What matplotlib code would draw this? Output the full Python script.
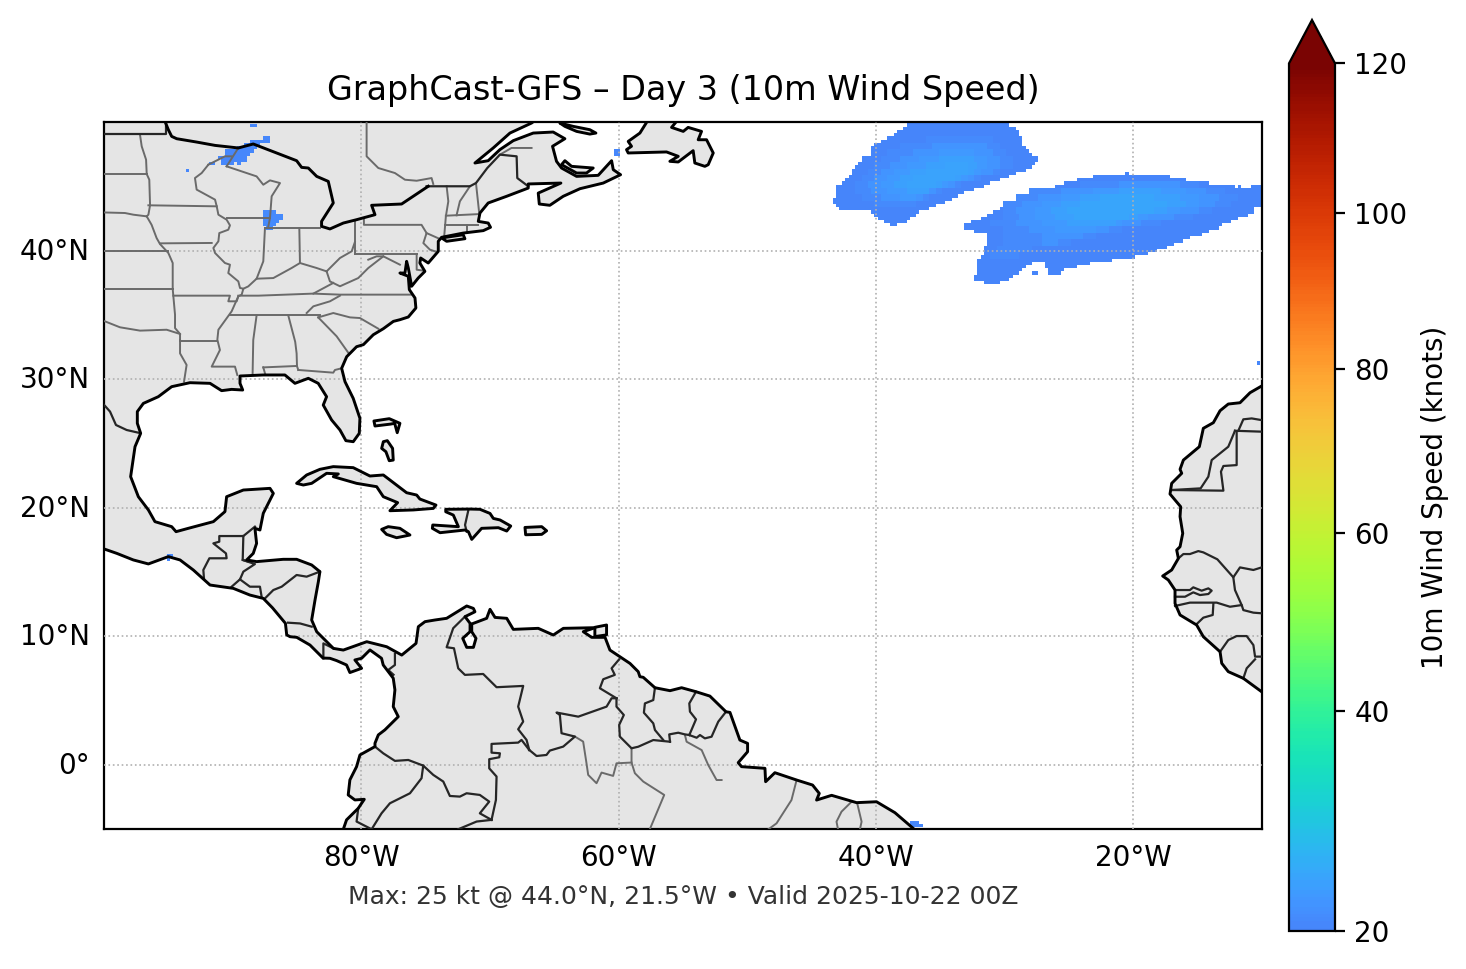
import numpy as np
import matplotlib
matplotlib.use("Agg")
import matplotlib.pyplot as plt
from matplotlib.colors import FuncNorm, LinearSegmentedColormap
from matplotlib.patches import Polygon
from matplotlib.transforms import ScaledTranslation

# ---- land outlines, (lon, lat)
main_land = [(-101,50.5),(-66.4,50.5),(-66.4,50.2),(-66.77,49.92),(-68.45,49.14),(-69.75,47.98),(-71.17,46.81),
 (-70.14,46.99),(-69.23,47.85),(-68.19,48.55),(-66.64,49.14),(-65.09,49.22),(-64.18,48.70),(-65.14,48.11),
 (-64.83,46.94),(-64.44,46.42),(-63.27,45.77),(-61.59,45.85),(-60.55,46.99),(-60.42,46.29),(-59.85,45.90),
 (-61.20,45.25),(-63.01,44.81),(-64.31,44.22),(-65.35,43.52),(-66.17,43.62),(-66.25,44.47),(-64.49,45.25),
 (-67.03,45.18),(-67.03,44.86),(-68.71,44.22),(-70.14,43.70),(-70.78,42.92),(-70.91,42.27),(-70.14,42.14),
 (-69.96,41.81),(-70.52,41.55),(-72.08,41.36),(-73.76,41.03),(-74.02,40.72),(-74.02,39.94),(-74.80,39.03),
 (-75.39,39.42),(-75.45,39.03),(-75.06,38.38),(-75.58,37.86),(-76.09,37.22),(-76.35,38.64),(-76.48,39.16),
 (-76.61,38.25),(-77.0,38.25),(-76.35,38.0),(-76.27,36.96),(-75.83,36.31),(-75.76,35.53),(-76.35,34.83),
 (-77.0,34.62),(-77.51,34.49),(-78.29,33.92),(-79.07,33.45),(-79.84,32.68),(-80.37,32.52),(-81.14,31.74),
 (-81.53,30.84),(-81.27,29.80),(-80.63,28.50),(-80.11,26.95),(-80.16,25.78),(-80.63,25.13),(-81.20,25.21),
 (-81.66,26.04),(-82.31,26.82),(-82.96,27.98),(-82.70,28.63),(-83.35,29.67),(-84.12,30.06),(-85.16,29.67),
 (-85.94,30.32),(-87.62,30.32),(-89.43,30.24),(-89.43,29.67),(-89.22,29.15),(-90.08,29.20),(-90.86,29.10),
 (-91.76,29.67),(-93.32,29.72),(-94.74,29.41),(-95.78,28.63),(-96.94,28.11),(-97.41,27.47),(-97.41,26.56),
 (-97.15,25.78),(-97.59,24.74),(-97.93,22.41),(-97.33,20.85),(-96.55,19.82),(-96.04,18.91),(-94.74,18.52),
 (-94.40,18.13),(-93.45,18.39),(-91.50,18.91),(-90.60,19.69),(-90.47,20.85),(-89.17,21.37),(-87.10,21.50),
 (-86.84,21.11),(-87.62,19.56),(-87.88,18.26),(-88.27,18.39),(-88.14,17.22),(-88.40,16.44),(-88.91,15.93),
 (-88.14,15.80),(-86.07,15.98),(-85.03,15.98),(-83.86,15.54),(-83.22,15.02),(-83.34,14.24),(-83.60,12.81),
 (-83.86,11.26),(-83.47,10.35),(-82.17,9.05),(-81.40,8.92),(-79.58,9.57),(-78.03,9.18),(-76.86,8.53),
 (-75.75,9.44),(-75.57,10.74),(-75.05,11.13),(-74.27,11.26),(-73.37,11.39),(-71.81,12.35),(-71.29,12.16),
 (-71.17,11.90),(-71.94,11.52),(-71.55,11.00),(-71.55,10.35),(-72.12,9.83),(-71.81,9.13),(-71.29,9.13),
 (-71.09,9.83),(-71.42,10.35),(-71.42,10.95),(-70.26,11.39),(-70.0,12.09),(-69.61,11.46),(-68.70,11.39),
 (-68.19,10.53),(-66.25,10.61),(-65.08,10.09),(-64.30,10.61),(-61.84,10.66),(-62.75,10.35),(-62.10,9.91),
 (-61.06,9.91),(-60.68,8.92),(-59.9,8.40),(-59.12,7.88),(-58.48,7.24),(-58.35,6.85),(-58.09,6.80),(-57.18,5.99),
 (-56.01,5.76),(-55.11,5.99),(-53.99,5.68),(-52.91,5.34),(-51.66,4.12),(-51.35,4.07),(-50.58,1.92),(-49.98,1.66),
 (-49.98,1.01),(-50.71,0.16),(-50.45,-0.15),(-48.63,-0.28),(-48.58,-1.32),(-47.86,-0.62),(-46.17,-1.19),
 (-44.93,-1.58),(-44.41,-2.23),(-44.62,-2.75),(-43.45,-2.38),(-41.51,-2.95),(-39.96,-2.88),(-38.53,-3.73),
 (-37.11,-4.95),(-36,-6),(-81.5,-6),(-81.40,-5.02),(-81.15,-4.29),(-80.24,-3.39),(-79.98,-3.0),(-79.77,-2.69),
 (-80.50,-2.74),(-81.02,-2.35),(-80.89,-1.18),(-80.37,-0.15),(-80.11,0.76),(-78.94,1.41),(-78.94,1.67),
 (-78.68,2.32),(-78.17,2.71),(-77.13,3.74),(-77.52,4.52),(-77.39,5.82),(-77.52,6.73),(-78.30,7.76),(-78.43,8.28),
 (-79.33,8.93),(-79.98,8.28),(-80.50,8.15),(-79.98,7.50),(-80.89,7.17),(-81.15,7.76),(-81.92,8.10),(-82.44,8.28),
 (-82.98,8.30),(-83.99,9.31),(-85.02,9.91),(-85.54,9.96),(-85.8,10.1),(-85.9,11.0),(-86.9,12.2),(-87.62,12.94),
 (-88.66,13.20),(-89.95,13.72),(-91.76,13.98),(-93.06,15.15),(-94.09,15.93),(-95.0,16.19),(-96.55,15.62),
 (-97.72,15.93),(-99.0,16.44),(-99.92,16.76),(-101,17.0)]
africa = [(-9,30),(-10.03,29.46),(-10.93,28.94),(-11.71,28.16),(-12.62,28.06),(-13.26,27.54),(-13.78,26.61),
 (-14.56,26.17),(-14.87,24.74),(-16.11,23.70),(-16.37,22.98),(-16.24,22.67),(-17.02,21.89),(-17.15,21.06),
 (-16.32,20.07),(-16.37,19.30),(-16.16,18.00),(-16.37,16.96),(-16.63,16.70),(-16.50,16.05),(-17.02,15.15),
 (-17.72,14.68),(-17.28,14.37),(-16.76,13.59),(-16.76,12.55),(-16.37,11.65),(-15.08,10.87),(-14.56,9.96),
 (-13.26,8.79),(-13.13,7.89),(-12.62,7.24),(-11.45,6.72),(-10.03,5.68),(-9.64,5.29),(-9,5)]
cuba = [(-85.03,21.89),(-84.25,22.54),(-83.22,22.98),(-82.18,23.19),(-80.63,23.11),(-79.33,22.46),(-78.29,22.54),
 (-76.48,21.16),(-75.70,20.98),(-75.45,20.67),(-74.20,20.20),(-74.41,19.94),(-75.96,19.82),(-77.78,19.76),
 (-77.18,20.39),(-78.29,20.85),(-78.81,21.63),(-80.37,21.89),(-82.18,22.41),(-81.79,22.62),(-82.70,22.67),
 (-83.86,21.89),(-84.51,21.76)]
hispaniola = [(-73.44,19.87),(-71.55,19.89),(-70.78,19.87),(-70.0,19.55),(-69.74,19.16),(-69.22,19.04),(-68.39,18.57),
 (-68.70,18.18),(-69.35,18.44),(-70.65,18.39),(-71.42,17.53),(-71.68,18.13),(-71.94,18.26),(-73.88,18.05),
 (-74.48,18.39),(-74.45,18.65),(-72.46,18.52),(-72.85,19.42),(-73.44,19.68)]
jamaica = [(-78.42,18.31),(-77.91,18.52),(-77.0,18.39),(-76.22,17.87),(-77.26,17.66),(-78.04,17.92)]
puerto_rico = [(-67.28,18.46),(-65.98,18.52),(-65.60,18.20),(-65.98,17.92),(-67.23,17.89)]
trinidad = [(-61.85,10.69),(-60.94,10.87),(-60.94,10.10),(-61.85,9.97)]
bahama_north = [(-79.02,26.74),(-77.83,26.92),(-77.0,26.56),(-77.21,25.83),(-77.41,26.56),(-77.72,26.5),(-78.94,26.35)]
andros = [(-78.29,25.13),(-77.98,25.21),(-77.57,24.61),(-77.52,23.70),(-77.83,23.65),(-78.09,24.35),(-78.42,24.61)]
long_island = [(-73.76,40.98),(-72.08,41.23),(-71.95,40.92),(-73.37,40.72)]
newfoundland = [(-57.70,50.18),(-58.35,49.14),(-59.26,48.49),(-59.0,48.11),(-59.39,47.85),(-59.26,47.59),(-56.28,47.67),
 (-55.37,47.33),(-56.02,46.94),(-55.37,46.89),(-54.21,47.77),(-54.08,46.81),(-53.30,46.55),(-53.04,46.68),
 (-52.65,47.59),(-53.17,48.62),(-53.82,48.62),(-53.56,49.27),(-54.60,49.58),(-54.98,49.27),(-55.89,49.58),
 (-55.5,50.05),(-55.45,50.18)]
anticosti = [(-64.57,49.92),(-63.53,49.66),(-62.24,49.40),(-61.77,49.14),(-62.24,49.06),(-63.27,49.27),(-64.18,49.66)]
pei = [(-64.18,46.99),(-63.66,46.55),(-61.98,46.42),(-62.50,46.03),(-63.27,46.03),(-64.44,46.68)]
islands = [cuba, hispaniola, jamaica, puerto_rico, trinidad, bahama_north, andros, long_island, newfoundland, anticosti, pei]

# ---- US / Canada line, black through the lakes
lakes_border = [(-95.21,49.92),(-95.0,49.40),(-94.74,48.88),(-94.35,48.70),(-92.80,48.44),(-91.37,48.18),(-89.56,47.98),
 (-88.40,48.29),(-85.03,46.99),(-84.64,46.47),(-84.12,46.42),(-83.47,45.77),(-82.57,45.38),(-82.18,43.70),
 (-83.09,42.27),(-83.09,41.88),(-82.44,41.68),(-81.40,42.14),(-80.37,42.40),(-78.94,42.79),(-79.20,43.52),
 (-76.87,43.62),(-74.80,45.0)]

# ---- country borders
borders = [
 [(-101,49.06),(-95.21,49.06),(-95.21,49.92)],
 [(-74.93,45.0),(-71.56,45.0),(-71.09,45.25),(-70.21,46.42),(-69.23,47.46),(-67.93,47.33),(-67.88,45.64),(-67.03,45.0)],
 [(-101,29),(-99.92,27.91),(-99.53,27.47),(-99.07,26.43),(-98.24,26.04),(-97.33,25.83)],
 [(-92.23,14.5),(-92.28,15.15),(-91.81,16.06),(-90.47,16.06),(-90.52,16.44),(-91.50,17.22),(-91.04,17.35),(-91.04,17.79),(-89.17,17.79),(-88.27,18.52)],
 [(-89.17,17.79),(-89.22,15.93),(-88.78,15.8)],
 [(-89.22,15.93),(-88.27,15.61),(-89.17,15.02),(-89.43,14.42),(-90.08,13.85)],
 [(-89.43,14.42),(-88.66,13.85),(-87.88,13.85),(-87.75,13.07)],
 [(-87.49,12.94),(-86.84,13.59),(-86.19,13.85),(-85.03,14.76),(-84.25,14.63),(-83.22,15.02)],
 [(-85.7,11.05),(-84.76,10.99),(-83.86,10.74)],
 [(-82.95,8.27),(-82.95,9.44),(-82.17,9.05)],
 [(-77.5,7.0),(-77.91,7.37),(-77.39,7.76),(-77.39,8.62)],
 [(-71.95,11.52),(-72.86,10.62),(-73.37,9.14),(-72.80,9.06),(-72.47,7.50),(-71.95,6.99),(-70.53,7.06),(-69.49,6.03),(-67.42,6.13),(-67.81,4.52),(-67.42,3.36),(-67.81,2.76),(-67.16,1.93),(-66.95,1.15)],
 [(-66.95,1.15),(-67.55,1.93),(-67.81,1.72),(-69.88,1.62),(-69.88,0.94),(-69.23,0.89),(-69.28,0.58),(-70.06,0.43),(-70.06,-0.28),(-69.49,-0.92),(-69.54,-2.74),(-69.88,-4.29)],
 [(-69.88,-4.29),(-70.79,-3.78),(-70.06,-2.87),(-70.79,-2.35),(-71.82,-2.22),(-72.34,-2.48),(-73.12,-2.43),(-73.63,-1.31),(-74.41,-0.79),(-75.19,-0.07),(-76.35,0.37),(-77.39,0.30),(-78.30,0.89),(-78.94,1.41)],
 [(-75.19,-0.07),(-75.32,-1.05),(-76.22,-2.22),(-77.78,-3.0),(-78.43,-3.78),(-79.2,-5.02),(-80.37,-4.42),(-80.24,-3.39)],
 [(-69.88,-4.29),(-71.04,-4.42),(-72.47,-5.02)],
 [(-66.95,1.15),(-66.38,0.68),(-65.61,0.76),(-65.35,1.10),(-64.31,1.41),(-63.40,2.19),(-64.44,2.45),(-64.57,3.87),(-64.83,4.06),(-63.14,3.74),(-60.94,4.52),(-60.55,5.17),(-60.17,5.17)],
 [(-60.17,5.17),(-61.46,5.95),(-61.20,6.65),(-60.30,6.99),(-60.55,7.50),(-59.96,8.20)],
 [(-60.17,5.17),(-60.17,4.52),(-59.60,3.87),(-59.96,3.10),(-59.91,2.19),(-59.0,1.28),(-58.48,1.40),(-57.31,1.92),(-56.01,1.79)],
 [(-57.18,5.99),(-57.31,5.03),(-57.96,4.77),(-58.04,4.05),(-57.31,3.22),(-57.18,2.70),(-56.53,1.92)],
 [(-56.01,1.79),(-56.07,2.36),(-55.37,2.49),(-54.85,2.36),(-54.51,2.31)],
 [(-53.99,5.68),(-54.51,4.77),(-54.46,4.13),(-53.99,3.53),(-54.51,2.31)],
 [(-54.51,2.31),(-53.94,2.10),(-53.68,2.31),(-53.30,2.05),(-52.78,2.18),(-52.26,3.35),(-51.66,4.12)],
 [(-71.68,19.81),(-71.94,18.65),(-71.81,18.13)],
 [(-10.03,26.81),(-10.80,26.94),(-11.45,26.87),(-11.84,25.98)],
 [(-12.10,25.98),(-10.03,25.91)],
 [(-12.10,25.98),(-12.62,24.74),(-13.91,23.70),(-14.17,22.41),(-14.77,21.50),(-17.02,21.37)],
 [(-11.97,25.91),(-11.97,23.31),(-13.0,23.24),(-13.19,22.80),(-13.0,21.32),(-17.02,21.37)],
 [(-16.50,16.05),(-16.11,16.39),(-15.6,16.39),(-14.95,16.62),(-14.56,16.52),(-13.47,15.98),(-12.23,14.58),(-11.71,15.35),(-10.67,15.15),(-10.03,15.35)],
 [(-12.23,14.58),(-12.10,13.59),(-11.58,12.42)],
 [(-16.76,12.35),(-15.60,12.61),(-13.52,12.61),(-12.49,12.29),(-11.58,12.42),(-11.45,12.03),(-10.67,11.83),(-10.03,11.78)],
 [(-16.76,13.59),(-15.60,13.59),(-15.34,13.80),(-14.69,13.54),(-14.17,13.72),(-13.91,13.54),(-14.17,13.28),(-14.82,13.20),(-15.34,13.41),(-15.98,13.07),(-16.76,13.07)],
 [(-13.78,12.50),(-13.83,11.65),(-14.56,11.44),(-15.08,10.94)],
 [(-13.26,8.79),(-12.62,9.70),(-11.97,10.01),(-11.19,10.01),(-10.67,9.31),(-10.54,8.41),(-10.03,8.41)],
 [(-11.45,6.72),(-11.19,7.50),(-10.54,8.20)],
]

# ---- states and provinces
states = [
 [(-79.59,49.92),(-79.59,47.33),(-78.68,46.42),(-77.39,46.03),(-76.61,45.51),(-75.70,45.43),(-74.54,45.64),(-74.41,45.18)],
 [(-69.23,47.46),(-68.33,47.98),(-66.77,47.98)],
 [(-101,45.95),(-96.68,45.95)],
 [(-101,42.99),(-98.37,42.92),(-97.72,42.79),(-96.68,42.66)],
 [(-101,39.99),(-95.0,39.99)],
 [(-101,37.01),(-94.66,37.01)],
 [(-97.20,49.0),(-97.07,48.11),(-96.73,47.07),(-96.68,45.95),(-96.48,45.51),(-96.42,43.52),(-96.55,42.79),(-96.68,42.66)],
 [(-96.68,42.66),(-96.30,42.0),(-95.91,40.97),(-95.65,40.51),(-95.0,39.81),(-94.66,39.03),(-94.66,37.01)],
 [(-96.55,43.52),(-91.24,43.44)],
 [(-95.65,40.56),(-91.63,40.59)],
 [(-91.89,46.68),(-92.41,46.03),(-92.93,45.64),(-92.80,44.74),(-91.37,43.96),(-91.24,43.44),(-91.11,42.79),(-90.47,42.40),(-90.21,41.96),(-90.34,41.62),(-91.04,41.36),(-91.11,40.72),(-91.50,40.20),(-91.37,39.81),(-90.60,39.03),(-90.21,38.90),(-90.34,38.25),(-89.56,37.60),(-89.43,37.09),(-89.17,37.03),(-89.30,36.57),(-89.56,36.44),(-90.08,35.27),(-91.11,33.84),(-91.19,33.07),(-90.99,32.26),(-91.63,30.97),(-89.82,30.97),(-89.64,30.32)],
 [(-94.09,33.04),(-94.09,32.0),(-93.58,31.10),(-93.78,29.80)],
 [(-94.09,33.0),(-91.19,33.0)],
 [(-101,34.75),(-99.92,34.49),(-98.76,34.03),(-97.2,33.77),(-95.13,33.84),(-94.09,33.51),(-94.09,33.0)],
 [(-94.66,37.01),(-94.48,35.01),(-94.48,33.97),(-94.09,33.51)],
 [(-94.61,36.49),(-90.21,36.49),(-90.34,36.05),(-89.69,36.05),(-89.56,36.44)],
 [(-90.47,42.53),(-87.10,42.53)],
 [(-90.47,46.55),(-88.14,45.77),(-87.62,45.12),(-87.10,45.46),(-86.32,45.25),(-86.97,44.22),(-87.10,42.53),(-87.23,41.88)],
 [(-90.47,46.55),(-89.56,47.98)],
 [(-91.89,46.68),(-90.60,47.33),(-90.08,47.33)],
 [(-87.49,41.75),(-87.62,39.16),(-88.14,37.81)],
 [(-89.17,37.03),(-88.79,37.21),(-88.14,37.81),(-86.84,37.86),(-85.42,38.64),(-84.77,39.03),(-83.47,38.64),(-82.70,38.38)],
 [(-87.49,41.75),(-83.22,41.75)],
 [(-84.82,41.75),(-84.77,39.03)],
 [(-89.56,36.49),(-88.0,36.49),(-83.73,36.65),(-81.66,36.57),(-76.09,36.57)],
 [(-83.73,36.65),(-82.18,37.48)],
 [(-82.70,38.38),(-82.44,37.60),(-81.66,37.22),(-80.24,37.86),(-79.46,38.64),(-78.29,39.55)],
 [(-82.70,38.38),(-81.66,39.42),(-80.75,39.94),(-80.50,40.66)],
 [(-80.50,42.27),(-80.50,39.73)],
 [(-80.50,39.73),(-75.70,39.73)],
 [(-79.46,39.29),(-78.81,39.55),(-78.29,39.55),(-77.0,38.90)],
 [(-75.70,39.73),(-75.70,38.51),(-75.13,38.43)],
 [(-79.80,42.53),(-79.80,42.0),(-75.32,42.0),(-74.93,41.36),(-75.18,40.58),(-74.67,40.07),(-74.28,39.94)],
 [(-74.93,41.36),(-73.94,40.92)],
 [(-90.21,35.01),(-83.22,35.01)],
 [(-84.25,35.14),(-83.73,35.66),(-82.44,36.05),(-81.66,36.49)],
 [(-83.35,34.80),(-82.18,35.14),(-80.88,34.80),(-80.11,34.75),(-78.68,33.92)],
 [(-83.35,34.80),(-81.92,33.33),(-81.0,32.03)],
 [(-88.14,34.96),(-88.40,33.04),(-88.45,30.45)],
 [(-85.68,34.96),(-85.14,32.9),(-85.03,32.0),(-85.0,31.0),(-84.9,30.71)],
 [(-84.9,30.71),(-82.18,30.5),(-82.05,30.71),(-81.53,30.84)],
 [(-87.62,30.91),(-85.03,31.02)],
 [(-87.62,30.91),(-87.49,30.45)],
 [(-73.37,45.0),(-73.24,43.83),(-73.43,42.66),(-73.56,41.10)],
 [(-71.56,45.0),(-72.34,43.83),(-72.60,42.74)],
 [(-71.09,45.25),(-70.84,42.92)],
 [(-73.50,42.01),(-70.91,42.01)],
 [(-73.43,42.71),(-70.78,42.84)],
 [(-71.82,42.01),(-71.82,41.5)],
 [(-63.40,2.19),(-62.76,1.80),(-62.50,0.11),(-62.37,-0.79),(-61.72,-1.44),(-61.33,-0.61),(-60.43,-0.87),(-60.17,0.11),(-59.0,0.17)],
 [(-59.0,1.28),(-59.0,0.17),(-58.74,-0.66),(-58.09,-1.31),(-56.46,-2.35),(-57.58,-5.02)],
 [(-54.85,2.31),(-54.72,1.79),(-53.55,1.14),(-53.04,-0.02),(-52.39,-1.19),(-52.0,-1.19)],
 [(-46.17,-1.19),(-46.57,-2.75),(-47.73,-4.56),(-48.37,-5.03)],
 [(-41.90,-2.88),(-42.68,-3.65),(-43.07,-4.43),(-42.95,-5.03)],
 [(-41.46,-3.0),(-41.12,-4.43),(-41.25,-5.03)],
]

# ---- wind field: (lat, first lon, last lon) runs of 0.25 degree cells, one list per speed step
east_blob_edge = [(50.0,-37.5,-29.75),(49.75,-37.5,-29.75),(49.5,-37.75,-29.25),(49.25,-38.25,-29.0),(49.0,-38.5,-29.0),
 (48.75,-39.0,-28.75),(48.5,-39.5,-28.75),(48.25,-40.0,-28.75),(48.0,-40.25,-28.5),(47.75,-40.25,-28.25),
 (47.5,-40.25,-28.0),(47.25,-41.0,-27.5),(47.0,-41.0,-27.5),(46.75,-41.25,-27.75),(46.5,-41.5,-28.0),
 (46.25,-41.75,-28.5),(46.0,-41.75,-29.25),(45.75,-42.0,-29.75),(45.5,-42.25,-30.5),(45.25,-42.5,-31.25),
 (45.0,-43.0,-31.75),(44.75,-43.0,-32.5),(44.5,-43.0,-33.25),(44.25,-43.0,-33.75),(44.0,-43.25,-34.25),
 (43.75,-43.25,-34.75),(43.5,-43.0,-35.5),(43.25,-42.25,-36.0),(43.25,-42.75,-42.5),(43.0,-40.25,-36.75),
 (42.75,-40.0,-37.0),(42.5,-39.75,-37.5),(42.25,-39.25,-37.75),(42.0,-38.75,-38.5)]
east_blob_21 = [(48.5,-36,-31),(48,-38,-30.5),(47.5,-39,-30),(47,-39.5,-29.5),(46.5,-40,-29.5),(46,-40.5,-30.5),
 (45.5,-41,-32),(45,-41.5,-33.5),(44.5,-41.5,-35),(44,-41,-36),(43.5,-40,-37)]
east_blob_22 = [(48,-35.5,-31.5),(47.5,-37,-31),(47,-38,-30.5),(46.5,-38.75,-30.5),(46,-39.5,-31),(45.5,-40,-32.5),
 (45,-40.5,-34),(44.5,-40.25,-35.5),(44,-39.5,-36.5)]
east_blob_23 = [(47.5,-35,-32.5),(47,-36.5,-31.5),(46.5,-37.5,-31.5),(46,-38.5,-32),(45.5,-39,-33),(45,-39.5,-34.5),
 (44.5,-39,-36),(44,-38,-37)]
east_blob_24 = [(47,-35,-32.5),(46.5,-36,-32.25),(46,-37.25,-32.5),(45.5,-38,-33.5),(45,-38.5,-35),(44.5,-37.5,-36)]
east_blob_25 = [(46.5,-34.5,-33),(46,-36,-33),(45.5,-37,-34),(45,-37.5,-35.5)]

south_blob_edge = [(46.0,-20.5,-20.5),(45.75,-23.0,-17.25),(45.5,-24.25,-16.0),(45.25,-25.25,-14.25),(45.0,-26.0,-12.25),
 (45.0,-11.75,-11.75),(45.0,-10.75,-10.0),(44.75,-26.75,-10.0),(44.5,-27.5,-10.0),(44.25,-28.0,-10.0),(44.0,-28.5,-10.0),
 (43.75,-29.0,-10.0),(43.5,-29.75,-10.0),(43.25,-30.25,-10.75),(43.0,-30.75,-10.75),(42.75,-31.25,-11.25),
 (42.5,-31.75,-12.0),(42.25,-32.5,-12.5),(42.0,-32.5,-13.25),(42.0,-33.0,-32.75),(41.75,-32.5,-13.5),(41.75,-33.0,-32.75),
 (41.5,-32.25,-14.25),(41.25,-31.25,-14.75),(41.0,-31.25,-15.75),(40.75,-31.25,-16.25),(40.5,-31.25,-17.0),
 (40.25,-31.5,-17.5),(40.0,-31.5,-18.25),(39.75,-31.5,-19.0),(39.5,-31.75,-20.0),(39.25,-32.0,-21.75),
 (39.0,-32.0,-28.0),(39.0,-26.75,-23.5),(38.75,-32.0,-28.5),(38.75,-26.75,-24.5),(38.5,-32.0,-28.75),(38.5,-26.5,-25.5),
 (38.25,-32.0,-29.0),(38.25,-27.75,-27.5),(38.25,-26.5,-26.25),(38.25,-26.0,-25.75),(38.0,-32.25,-29.5),
 (37.75,-32.25,-29.75),(37.5,-31.5,-30.5)]
south_blob_21 = [(45,-24,-15),(44.5,-28,-13),(44,-29,-12),(43.5,-30,-12.5),(43,-30,-14),(42.5,-30,-15.5),(42,-31,-18),
 (41.5,-30,-21),(41,-30,-23),(40.5,-30,-25),(40,-30.5,-28),(39.5,-31,-29)]
south_blob_22 = [(45,-21,-16.5),(44.5,-25.5,-14.5),(44,-27.25,-13.5),(43.5,-28.5,-13.75),(43,-29,-15),(42.5,-28.75,-17),
 (42,-29,-19.5),(41.5,-28,-22),(41,-27,-24),(40.5,-27,-26)]
south_blob_23 = [(44.5,-23,-16),(44,-25.5,-15),(43.5,-27,-15),(43,-27.5,-16.5),(42.5,-27.5,-19),(42,-27,-21),(41.5,-26,-23)]
south_blob_24 = [(44.5,-21,-18),(44,-24,-16.5),(43.5,-25.5,-16),(43,-26.25,-17.5),(42.5,-26,-19.75),(42,-25,-21.5)]
south_blob_25 = [(44,-22.5,-18.5),(43.5,-24,-17.5),(43,-25,-18.5),(42.5,-24.5,-20.5)]

superior_patch = [(49.75,-88.5,-88.25),(48.75,-87.5,-87.25),(48.5,-88.5,-87.25),(48.25,-89.0,-88.0),(48.0,-89.5,-88.25),
 (47.75,-90.5,-88.5),(47.5,-90.5,-88.75),(47.25,-91.0,-89.0),(47.0,-90.75,-89.0),(46.75,-91.75,-91.5),
 (46.75,-90.75,-90.0),(46.75,-89.5,-89.5),(46.25,-93.5,-93.5)]
michigan_patch = [(43.0,-87.5,-86.75),(42.75,-87.5,-86.25),(42.5,-87.5,-86.25),(42.25,-87.5,-86.5),(42.0,-87.5,-86.75),(41.75,-87.25,-87.0)]
small_patches = [(47.75,-60.25,-60.0),(47.5,-60.25,-60.0),(16.25,-95.0,-94.75),(16.0,-95.0,-95.0),(-4.5,-37.25,-36.75),
 (-4.75,-37.25,-36.5),(31.25,-10.25,-10.25)]

lon_ticks = [-80, -60, -40, -20]
lon_labels = ["80°W", "60°W", "40°W", "20°W"]
lat_ticks = [0, 10, 20, 30, 40]
lat_labels = ["0°", "10°N", "20°N", "30°N", "40°N"]
cbar_ticks = [20, 40, 60, 80, 100, 120]
cbar_fracs = [0, 0.2535, 0.4585, 0.6475, 0.827, 1]

lons = np.arange(-100, -9.9, 0.25)
lats = np.arange(-5, 50.1, 0.25)
speed = np.full((lats.size, lons.size), np.nan)


def fill_runs(runs, value, band=0.25):
    for lat, west, east in runs:
        for la in np.arange(lat, lat + band - 0.01, 0.25):
            i = int(round((la + 5) / 0.25))
            j0 = int(round((west + 100) / 0.25))
            j1 = int(round((east + 100) / 0.25))
            speed[i, j0:j1 + 1] = value


fill_runs(east_blob_edge, 20.3)
fill_runs(east_blob_21, 21.2, 0.5)
fill_runs(east_blob_22, 22.2, 0.5)
fill_runs(east_blob_23, 23.2, 0.5)
fill_runs(east_blob_24, 24.1, 0.5)
fill_runs(east_blob_25, 24.9, 0.5)
fill_runs(south_blob_edge, 20.3)
fill_runs(south_blob_21, 21.2, 0.5)
fill_runs(south_blob_22, 22.2, 0.5)
fill_runs(south_blob_23, 23.2, 0.5)
fill_runs(south_blob_24, 24.1, 0.5)
fill_runs(south_blob_25, 25.0, 0.5)
fill_runs(superior_patch, 20.5)
fill_runs(michigan_patch, 21.2)
fill_runs(small_patches, 20.5)

base = plt.get_cmap("turbo")(np.linspace(0.165, 1.0, 256))
wind_cmap = LinearSegmentedColormap.from_list("wind", base, N=256)
wind_cmap.set_over(base[-1])
wind_norm = FuncNorm((lambda v: np.interp(v, cbar_ticks, cbar_fracs),
                      lambda f: np.interp(f, cbar_fracs, cbar_ticks)), vmin=20, vmax=120)

W, H = 1466, 969
fig = plt.figure(figsize=(W / 200, H / 200), dpi=200)
ax = fig.add_axes([104 / W, 1 - 829 / H, 1158 / W, 707 / H])

LAND = "#e5e5e5"
ax.add_patch(Polygon(main_land, closed=True, fc=LAND, ec="none", zorder=1))
ax.add_patch(Polygon(africa, closed=True, fc=LAND, ec="none", zorder=1))
for isl in islands:
    ax.add_patch(Polygon(isl, closed=True, fc=LAND, ec="none", zorder=1))

mesh = ax.pcolormesh(lons, lats, speed, shading="nearest", cmap=wind_cmap, norm=wind_norm, zorder=2)

for ln in states:
    xy = np.array(ln)
    ax.plot(xy[:, 0], xy[:, 1], color="#6a6a6a", lw=0.7, zorder=3)
for ln in borders:
    xy = np.array(ln)
    ax.plot(xy[:, 0], xy[:, 1], color="#262626", lw=0.8, zorder=3)
xy = np.array(lakes_border)
ax.plot(xy[:, 0], xy[:, 1], color="k", lw=1.05, zorder=4)
for shape in [main_land, africa] + islands:
    ax.add_patch(Polygon(shape, closed=True, fc="none", ec="k", lw=1.05, joinstyle="round", zorder=4))

ax.set_xlim(-100, -10)
ax.set_ylim(-5, 50)
ax.set_xticks(lon_ticks, lon_labels)
ax.set_yticks(lat_ticks, lat_labels, va="center_baseline")
ax.tick_params(axis="x", length=0, pad=5.4, labelsize=10)
ax.tick_params(axis="y", length=0, pad=5.2, labelsize=10)
# lat labels sit a touch higher than the gridline
for lbl in ax.get_yticklabels():
    lbl.set_transform(lbl.get_transform() + ScaledTranslation(0, 2 / 200, fig.dpi_scale_trans))
ax.grid(True, color="#b0b0b0", ls=":", lw=0.6, zorder=5)
ax.set_axisbelow(False)
ax.set_title("GraphCast-GFS – Day 3 (10m Wind Speed)", fontsize=12, pad=8)
fig.text(683 / W, 1 - 897 / H, "Max: 25 kt @ 44.0°N, 21.5°W • Valid 2025-10-22 00Z", ha="center", va="center",
         fontsize=9, color="#333333")

cax = fig.add_axes([1289 / W, 1 - 931 / H, 46 / W, 911 / H])
cb = fig.colorbar(mesh, cax=cax, extend="max", extendfrac=0.05, ticks=cbar_ticks)
cb.ax.minorticks_off()
cb.ax.tick_params(labelsize=10)
cb.set_label("10m Wind Speed (knots)", fontsize=10, labelpad=4.8)

fig.savefig("out.png", dpi=200)
